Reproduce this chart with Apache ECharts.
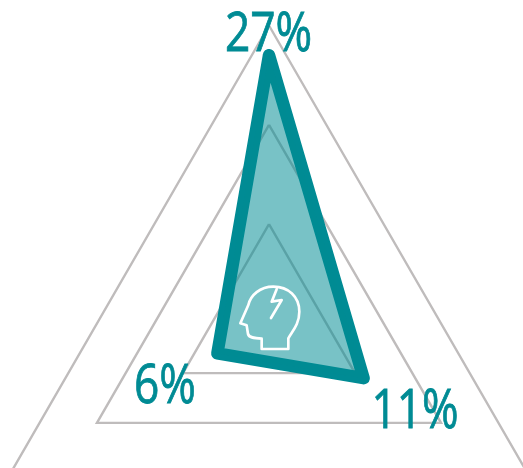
<!DOCTYPE html>
<html><head><meta charset="utf-8">
<style>html,body{margin:0;padding:0;background:#fff}#c{width:523px;height:468px}</style>
<script src="https://cdn.jsdelivr.net/npm/echarts@6/dist/echarts.min.js"></script>
</head><body><div id="c"></div>
<script>
const categories = ['A', 'B', 'C'];
const values = [27, 6, 11];
const labelPositions = [[268.5, 36], [165, 388], [415, 413]];
const axisMax = 30;
const teal = '#008b94';
const iconPath = 'M245 297 L325 297 L325 265 C335 245 358 225 358 185 C358 140 325 110 280 110 C240 110 212 135 205 165 L181 220 L200 226 L204 252 C207 262 218 265 245 266 Z M290 118 L275 155 L305 150 L273 204';
const chart = echarts.init(document.getElementById('c'), null, {renderer: 'canvas'});
chart.setOption({
  animation: false,
  backgroundColor: '#fff',
  radar: {
    center: [269, 323.5], radius: 298, startAngle: 90, splitNumber: 3, shape: 'polygon',
    indicator: categories.map(n => ({name: n, min: 0, max: axisMax})),
    axisName: {show: false},
    axisLine: {show: false}, axisTick: {show: false}, axisLabel: {show: false},
    splitArea: {show: false},
    splitLine: {lineStyle: {color: '#bfbcbc', width: 2.4}}
  },
  series: [{
    type: 'radar', symbol: 'none', silent: true,
    lineStyle: {color: teal, width: 12.5, join: 'round', cap: 'round', opacity: 1},
    areaStyle: {color: teal, opacity: 0.53},
    data: [{value: values}]
  }, {
    type: 'custom', coordinateSystem: 'none', silent: true, z: 10,
    data: [0],
    renderItem: () => ({
      type: 'path', x: 180, y: 250, scaleX: 1/3, scaleY: 1/3,
      shape: {pathData: iconPath},
      style: {fill: 'none', stroke: '#fff', lineWidth: 8, lineJoin: 'round', lineCap: 'round'}
    })
  }],
  graphic: values.map((v, i) => ({
    type: 'text', x: labelPositions[i][0], y: labelPositions[i][1], scaleX: 0.82, z: 11, silent: true,
    style: {text: v + '%', fill: teal, stroke: teal, lineWidth: 0.8, font: '54px "Open Sans"', textAlign: 'center', textVerticalAlign: 'middle'}
  }))
});
</script></body></html>
